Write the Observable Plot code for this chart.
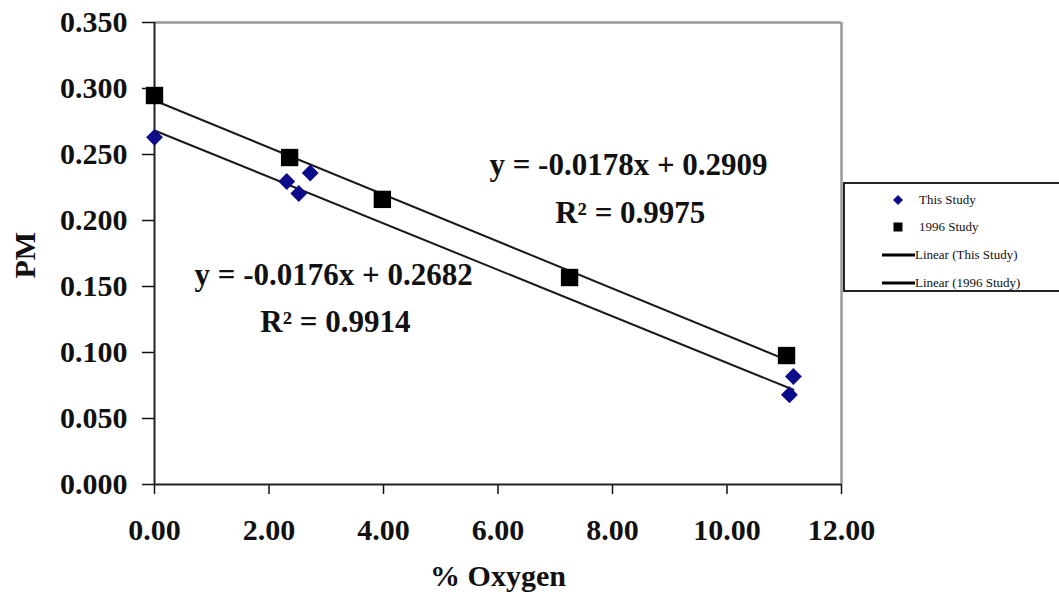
<!DOCTYPE html>
<html>
<head>
<meta charset="utf-8">
<script src="https://cdn.jsdelivr.net/npm/d3@7"></script>
<script src="https://cdn.jsdelivr.net/npm/@observablehq/plot@0.6"></script>
<style>
  html, body { margin: 0; padding: 0; background: #fff; overflow: hidden; }
  #wrap { position: relative; width: 1059px; height: 599px; }
  #legend {
    position: absolute; left: 843px; top: 182px; width: 230px; height: 106px;
    border: 2px solid #222; background: #fff;
    font-family: "Liberation Serif", Tinos, "Times New Roman", Times, "DejaVu Serif", serif; font-size: 13px; color: #111;
  }
  #legend .item { position: absolute; left: 0; height: 20px; display: flex; align-items: center; }
  #legend svg { display: block; }
  svg.chart text { font-family: "Liberation Serif", Tinos, "Times New Roman", Times, "DejaVu Serif", serif !important; font-weight: bold; }
</style>
</head>
<body>
<div id="wrap"></div>
<script>
// ---- data ----
const thisStudyX = [0.00, 2.31, 2.52, 2.72, 11.09, 11.16];
const thisStudyY = [0.263, 0.2295, 0.2205, 0.236, 0.068, 0.0818];
const study1996X = [0.00, 2.36, 3.98, 7.25, 11.04];
const study1996Y = [0.2947, 0.2477, 0.216, 0.1568, 0.0977];
const fitSeries = ["This Study", "1996 Study"];
const fitSlope = [-0.0176, -0.0178];
const fitIntercept = [0.2682, 0.2909];
const eqLabels = ["y = -0.0176x + 0.2682", "y = -0.0178x + 0.2909"];
const r2Labels = ["R² = 0.9914", "R² = 0.9975"];
const xTicks = [0, 2, 4, 6, 8, 10, 12];
const yTicks = [0, 0.05, 0.10, 0.15, 0.20, 0.25, 0.30, 0.35];

// ---- build tables ----
const thisStudy = thisStudyX.map((x, i) => ({x, y: thisStudyY[i]}));
const study1996 = study1996X.map((x, i) => ({x, y: study1996Y[i]}));
const seriesX = [thisStudyX, study1996X];
const fitLines = fitSeries.flatMap((s, i) => {
  const xs = [d3.min(seriesX[i]), d3.max(seriesX[i])];
  return xs.map(x => ({series: s, x, y: fitIntercept[i] + fitSlope[i] * x}));
});
// annotation anchors (data coordinates)
const eqPos = [{x: 3.13, y: 0.1583}, {x: 8.28, y: 0.2417}];
const r2Pos = [{x: 3.16, y: 0.1227}, {x: 8.31, y: 0.2053}];
const annotations = [
  ...eqLabels.map((t, i) => ({...eqPos[i], t})),
  ...r2Labels.map((t, i) => ({...r2Pos[i], t}))
];

const serif = "Liberation Serif, Tinos, Times New Roman, DejaVu Serif, serif";
const navy = "#0c0c8a";

const chart = Plot.plot({
  width: 1059,
  height: 599,
  marginLeft: 154,
  marginRight: 218,
  marginTop: 22,
  marginBottom: 115,
  className: "chart",
  style: {fontFamily: serif, fontWeight: "bold", color: "#111", background: "#fff"},
  x: {domain: [0, 12]},
  y: {domain: [0, 0.35]},
  marks: [
    Plot.ruleY([0.35], {stroke: "#9a9a9a", strokeWidth: 2.5}),
    Plot.ruleX([12], {stroke: "#9a9a9a", strokeWidth: 2.5}),
    Plot.axisY(yTicks, {tickSize: 12, tickPadding: 15, fontSize: 30, tickFormat: d => d.toFixed(3), label: null, strokeWidth: 1.5}),
    Plot.axisX(xTicks, {tickSize: 10, tickPadding: 24, fontSize: 30, tickFormat: d => d.toFixed(2), label: null, strokeWidth: 1.5}),
    Plot.ruleX([0], {stroke: "#222", strokeWidth: 2}),
    Plot.ruleY([0], {stroke: "#222", strokeWidth: 2}),
    Plot.line(fitLines, {x: "x", y: "y", z: "series", stroke: "#1a1a1a", strokeWidth: 2}),
    Plot.dot(thisStudy, {x: "x", y: "y", symbol: "diamond2", r: 7.6, fill: navy, stroke: "none"}),
    Plot.dot(study1996, {x: "x", y: "y", symbol: "square", r: 9.8, fill: "#000", stroke: "none"}),
    Plot.text(annotations, {x: "x", y: "y", text: "t", fontSize: 31, fill: "#111"}),
    Plot.text(["PM"], {text: d => d, frameAnchor: "left", dx: -129, dy: 25, rotate: -90, fontSize: 30, fill: "#111"}),
    Plot.text(["% Oxygen"], {text: d => d, frameAnchor: "bottom", dy: 101, fontSize: 30, fill: "#111"})
  ]
});

const wrap = document.getElementById("wrap");
wrap.appendChild(chart);

// ---- legend ----
const legendItems = [
  {label: "This Study", kind: "diamond", top: 6},
  {label: "1996 Study", kind: "square", top: 33},
  {label: "Linear (This Study)", kind: "line", top: 61},
  {label: "Linear (1996 Study)", kind: "line", top: 89}
];
const legend = document.createElement("div");
legend.id = "legend";
legendItems.forEach(it => {
  const row = document.createElement("div");
  row.className = "item";
  row.style.top = it.top + "px";
  const ns = "http://www.w3.org/2000/svg";
  const svg = document.createElementNS(ns, "svg");
  svg.setAttribute("width", 70);
  svg.setAttribute("height", 20);
  let shape;
  if (it.kind === "diamond") {
    shape = document.createElementNS(ns, "path");
    shape.setAttribute("d", "M53,5 L58,10 L53,15 L48,10 Z");
    shape.setAttribute("fill", navy);
  } else if (it.kind === "square") {
    shape = document.createElementNS(ns, "rect");
    shape.setAttribute("x", 48.5); shape.setAttribute("y", 5.5);
    shape.setAttribute("width", 9); shape.setAttribute("height", 9);
    shape.setAttribute("fill", "#000");
  } else {
    shape = document.createElementNS(ns, "line");
    shape.setAttribute("x1", 37); shape.setAttribute("x2", 70);
    shape.setAttribute("y1", 10); shape.setAttribute("y2", 10);
    shape.setAttribute("stroke", "#000"); shape.setAttribute("stroke-width", 3);
  }
  svg.appendChild(shape);
  row.appendChild(svg);
  const span = document.createElement("span");
  span.textContent = it.label;
  if (it.kind !== "line") span.style.marginLeft = "4px";
  row.appendChild(span);
  legend.appendChild(row);
});
wrap.appendChild(legend);
</script>
</body>
</html>
